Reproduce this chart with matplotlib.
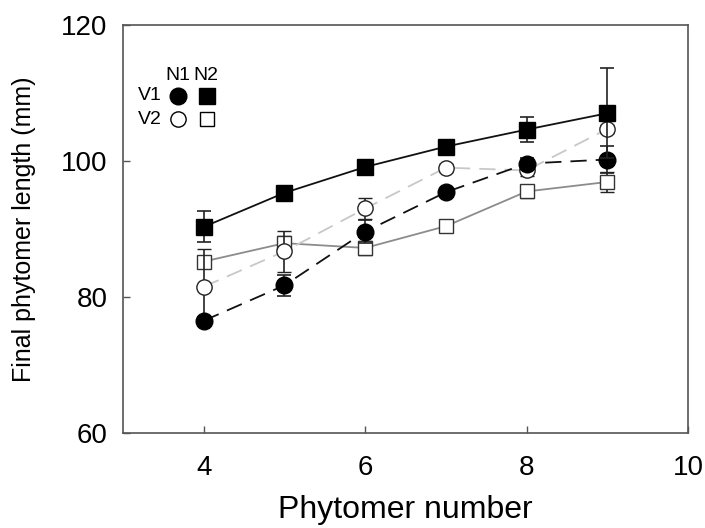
import matplotlib
matplotlib.use("Agg")
import matplotlib.pyplot as plt

plt.rcParams['font.family'] = ['Liberation Sans', 'DejaVu Sans']

phytomer = [4, 5, 6, 7, 8, 9]
v1n1 = [76.5, 81.7, 89.6, 95.4, 99.6, 100.2]
v1n1_err = [0.5, 1.5, 1.7, 0.5, 0.8, 2.0]
v1n2 = [90.3, 95.3, 99.1, 102.1, 104.6, 107.0]
v1n2_err = [2.3, 0.6, 0.6, 0.5, 1.9, 6.6]
v2n1 = [81.5, 86.7, 93.0, 99.0, 98.6, 104.7]
v2n1_err = [5.5, 3.0, 1.5, 0.6, 0.8, 0.6]
v2n2 = [85.2, 87.9, 87.2, 90.4, 95.5, 96.9]
v2n2_err = [0.6, 1.0, 1.0, 0.7, 1.0, 1.5]

xticks = [4, 6, 8, 10]
yticks = [60, 80, 100, 120]

fig = plt.figure(figsize=(7.05, 5.28), dpi=100)
ax = fig.add_axes([0.1745, 0.18, 0.8015, 0.773])

eb_kw = dict(ecolor='#222222', elinewidth=1.2, capsize=5, capthick=1.2)

# V2N2: gray solid, open squares
ax.errorbar(phytomer, v2n2, yerr=v2n2_err, color='#8c8c8c', lw=1.3, ls='-',
            marker='s', ms=10, mfc='white', mec='#333333', mew=1.0, zorder=2, **eb_kw)
# V2N1: light gray dashed, open circles
ax.errorbar(phytomer, v2n1, yerr=v2n1_err, color='#c8c8c8', lw=1.3, ls=(0, (9, 5)),
            marker='o', ms=11, mfc='white', mec='#222222', mew=1.0, zorder=3, **eb_kw)
# V1N1: black dashed, filled circles
ax.errorbar(phytomer, v1n1, yerr=v1n1_err, color='#111111', lw=1.3, ls=(0, (9, 5)),
            marker='o', ms=12, mfc='black', mec='black', zorder=4, **eb_kw)
# V1N2: black solid, filled squares
ax.errorbar(phytomer, v1n2, yerr=v1n2_err, color='#111111', lw=1.3, ls='-',
            marker='s', ms=11, mfc='black', mec='black', zorder=5, **eb_kw)

ax.set_xlim(3, 10)
ax.set_ylim(60, 120)
ax.set_xticks(xticks)
ax.set_yticks(yticks)
ax.tick_params(direction='in', length=5, width=1, color='#555555',
               labelsize=20, pad=11, top=False, right=False)
ax.tick_params(axis='x', pad=16)
for s in ax.spines.values():
    s.set_color('#555555')
    s.set_linewidth(1.2)

ax.set_xlabel('Phytomer number', fontsize=23, labelpad=10)
ax.set_ylabel('Final phytomer length (mm)', fontsize=18, labelpad=18)

# custom legend
tr = ax.transAxes
def ax_xy(px, py):
    # convert figure pixel coords (from top-left) to axes fraction
    fx = px / 705.0
    fy = 1 - py / 528.0
    return ((fx - 0.1745) / 0.8015, (fy - 0.18) / 0.773)

for txt, (px, py) in [('N1', (178, 75)), ('N2', (206, 75)),
                      ('V1', (150, 96)), ('V2', (150, 119))]:
    x, y = ax_xy(px, py)
    ax.text(x, y, txt, transform=tr, fontsize=14, ha='center', va='center')
leg_markers = [((178, 96), 'o', 'black', 12), ((207, 96), 's', 'black', 11),
               ((178, 119), 'o', 'white', 11), ((207, 119), 's', 'white', 10)]
for (px, py), m, fc, ms in leg_markers:
    x, y = ax_xy(px, py)
    ax.plot([x], [y], marker=m, ms=ms, mfc=fc, mec='black', mew=1.0,
            transform=tr, clip_on=False, ls='none')

fig.savefig('out.png', dpi=100)
